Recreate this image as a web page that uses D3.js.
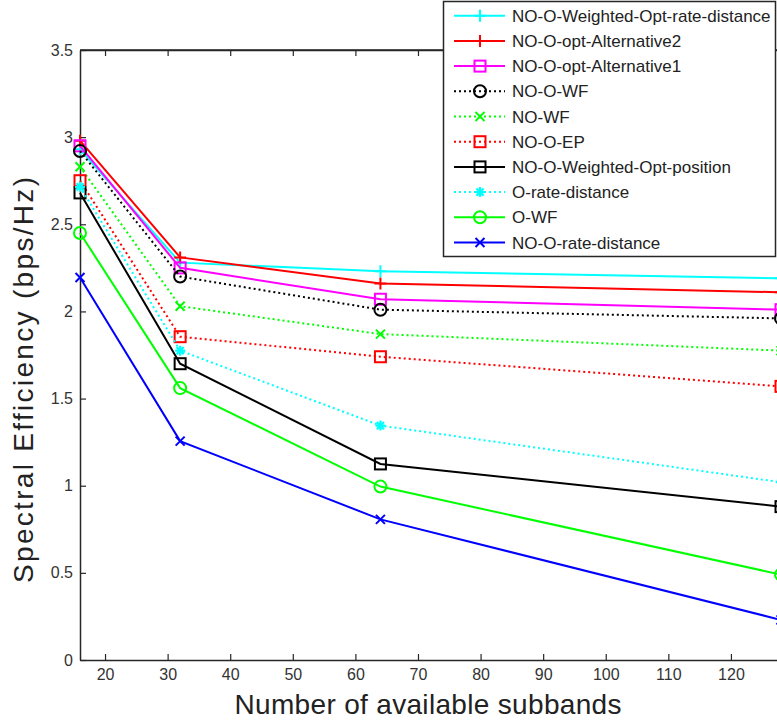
<!DOCTYPE html>
<html><head><meta charset="utf-8">
<script src="https://cdn.jsdelivr.net/npm/d3@7"></script>
<style>body{margin:0;background:#fff;} svg{display:block;} text{font-family:"Liberation Sans",Arial,sans-serif;}</style>
</head><body><svg id="c" width="777" height="721"></svg>
<script>
const xValues = [16, 32, 64, 128];
const xTicks = [20, 30, 40, 50, 60, 70, 80, 90, 100, 110, 120];
const yTicks = [0, 0.5, 1, 1.5, 2, 2.5, 3, 3.5];
const seriesNames = ["NO-O-Weighted-Opt-rate-distance","NO-O-opt-Alternative2","NO-O-opt-Alternative1","NO-O-WF","NO-WF","NO-O-EP","NO-O-Weighted-Opt-position","O-rate-distance","O-WF","NO-O-rate-distance"];
const weightedRateDistance = [2.93, 2.28, 2.23, 2.19];
const alternative2 = [2.98, 2.31, 2.16, 2.11];
const alternative1 = [2.95, 2.25, 2.07, 2.01];
const noOWF = [2.92, 2.20, 2.01, 1.96];
const noWF = [2.83, 2.03, 1.87, 1.775];
const noOEP = [2.75, 1.855, 1.74, 1.57];
const weightedPosition = [2.68, 1.70, 1.125, 0.88];
const oRateDistance = [2.715, 1.775, 1.345, 1.02];
const oWF = [2.45, 1.56, 0.995, 0.49];
const noORateDistance = [2.195, 1.256, 0.807, 0.23];
const seriesValues = [weightedRateDistance, alternative2, alternative1, noOWF, noWF, noOEP, weightedPosition, oRateDistance, oWF, noORateDistance];
const colors = ["#00ffff","#ff0000","#ff00ff","#000000","#00ff00","#ff0000","#000000","#00ffff","#00ff00","#0000ff"];
const dashes = [null,null,null,"2,3","2,3","2,3",null,"2,3",null,null];
const markers = ["plus","plus","square","circle","x","square","square","star","circle","x"];

const svg = d3.select("#c");
const x = d3.scaleLinear().domain([16,128]).range([80,781]);
const y = d3.scaleLinear().domain([0,3.5]).range([660,50]);
const axisColor = "#262626";

svg.append("line").attr("x1",80).attr("x2",781).attr("y1",y(3.5)).attr("y2",y(3.5)).attr("stroke",axisColor).attr("stroke-width",1.5);
const xAxis = svg.append("g").attr("transform","translate(0,660)")
  .call(d3.axisBottom(x).tickValues(xTicks).tickSizeInner(-6).tickSizeOuter(0).tickPadding(9));
const xAxisTop = svg.append("g").attr("transform","translate(0,50)")
  .call(d3.axisTop(x).tickValues(xTicks).tickSizeInner(-6).tickSizeOuter(0).tickFormat(""));
const yAxis = svg.append("g").attr("transform","translate(80,0)")
  .call(d3.axisLeft(y).tickValues(yTicks).tickSizeInner(-6).tickSizeOuter(0).tickPadding(7).tickFormat(d3.format("")));
[xAxis,xAxisTop,yAxis].forEach(g=>{
  g.select(".domain").attr("stroke",axisColor).attr("stroke-width",1.5);
  g.selectAll(".tick line").attr("stroke",axisColor).attr("stroke-width",1.2);
  g.selectAll(".tick text").attr("fill","#333").style("font-size","16px").style("font-family","'Liberation Sans',Arial,sans-serif");
});

function drawMarker(g, type, cx, cy, color){
  const s = 6;
  if(type==="plus"){
    g.append("path").attr("d",`M${cx-s},${cy}H${cx+s}M${cx},${cy-s}V${cy+s}`).attr("stroke",color).attr("stroke-width",2).attr("fill","none");
  } else if(type==="square"){
    g.append("rect").attr("x",cx-5.5).attr("y",cy-5.5).attr("width",11).attr("height",11).attr("stroke",color).attr("stroke-width",2).attr("fill","none");
  } else if(type==="circle"){
    g.append("circle").attr("cx",cx).attr("cy",cy).attr("r",6).attr("stroke",color).attr("stroke-width",2).attr("fill","none");
  } else if(type==="x"){
    const t=4.5;
    g.append("path").attr("d",`M${cx-t},${cy-t}L${cx+t},${cy+t}M${cx-t},${cy+t}L${cx+t},${cy-t}`).attr("stroke",color).attr("stroke-width",2).attr("fill","none");
  } else if(type==="star"){
    const t=5, d=3.6;
    g.append("path").attr("d",`M${cx-t},${cy}H${cx+t}M${cx},${cy-t}V${cy+t}M${cx-d},${cy-d}L${cx+d},${cy+d}M${cx-d},${cy+d}L${cx+d},${cy-d}`).attr("stroke",color).attr("stroke-width",2.2).attr("fill","none");
  }
}

const line = d3.line().x((d,i)=>x(xValues[i])).y(d=>y(d));
const plot = svg.append("g");
seriesValues.forEach((vals,k)=>{
  const g = plot.append("g");
  g.append("path").attr("d",line(vals)).attr("fill","none").attr("stroke",colors[k])
    .attr("stroke-width",2).attr("stroke-dasharray",dashes[k]);
  vals.forEach((v,i)=>drawMarker(g, markers[k], x(xValues[i]), y(v), colors[k]));
});

// legend
const lg = svg.append("g");
lg.append("rect").attr("x",443.5).attr("y",1.5).attr("width",332).attr("height",255).attr("fill","#fff").attr("stroke",axisColor).attr("stroke-width",1.5);
seriesNames.forEach((name,k)=>{
  const cy = 15.7 + k*25.2;
  lg.append("line").attr("x1",454).attr("x2",505).attr("y1",cy).attr("y2",cy).attr("stroke",colors[k]).attr("stroke-width",2).attr("stroke-dasharray",dashes[k]);
  drawMarker(lg, markers[k], 480, cy, colors[k]);
  const t = lg.append("text").attr("x",512).attr("y",cy).attr("dy","0.36em").attr("fill","#222").style("font-size","17px").text(name);
  const w = t.node().getComputedTextLength();
  if(w > 259) t.attr("textLength",259).attr("lengthAdjust","spacingAndGlyphs");
});

// axis labels
svg.append("text").attr("x",428).attr("y",714).attr("text-anchor","middle").attr("fill","#222").style("font-size","28px")
  .attr("textLength",387).attr("lengthAdjust","spacing").text("Number of available subbands");
svg.append("text").attr("transform","translate(33,380) rotate(-90)").attr("text-anchor","middle").attr("fill","#222").style("font-size","28px")
  .attr("textLength",406).attr("lengthAdjust","spacing").text("Spectral Efficiency (bps/Hz)");
</script></body></html>
